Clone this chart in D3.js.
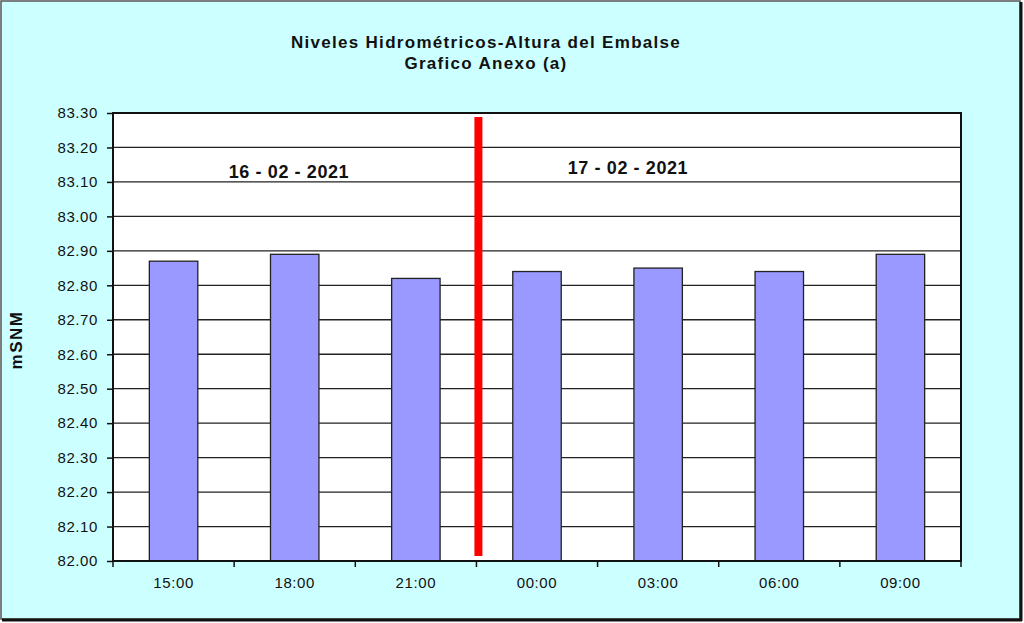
<!DOCTYPE html>
<html><head><meta charset="utf-8">
<script src="https://cdn.jsdelivr.net/npm/d3@7"></script>
<style>body{margin:0;background:#fff;}svg{display:block;}</style>
</head><body>
<svg id="c" width="1024" height="623"></svg>
<script>
const categories = ["15:00","18:00","21:00","00:00","03:00","06:00","09:00"];
const levels = [82.87, 82.89, 82.82, 82.84, 82.85, 82.84, 82.89];
const yTicks = [82.00,82.10,82.20,82.30,82.40,82.50,82.60,82.70,82.80,82.90,83.00,83.10,83.20,83.30];
const titleLines = ["Niveles Hidrométricos-Altura del Embalse","Grafico Anexo (a)"];
const dateLabels = ["16 - 02 - 2021","17 - 02 - 2021"];
const yTitle = "mSNM";

const FONT = "Arial, 'Liberation Sans', sans-serif";
const svg = d3.select("#c");
const W = 1024, H = 623;
const m = {left:113, right:961, top:113, bottom:561};

// background and frame
svg.append("rect").attr("x",0).attr("y",0).attr("width",W).attr("height",H).attr("fill","#ffffff");
svg.append("rect").attr("x",1).attr("y",1).attr("width",1019).attr("height",618)
  .attr("fill","#ccffff").attr("stroke","#555").attr("stroke-width",1.5);
svg.append("line").attr("x1",1021).attr("x2",1021).attr("y1",2).attr("y2",621).attr("stroke","#111").attr("stroke-width",3);
svg.append("line").attr("x1",2).attr("x2",1022).attr("y1",620).attr("y2",620).attr("stroke","#111").attr("stroke-width",3);

const x = d3.scaleBand().domain(categories).range([m.left,m.right]).paddingInner(0.6).paddingOuter(0.3);
const xb = d3.scaleBand().domain(categories).range([m.left,m.right]);
const y = d3.scaleLinear().domain([82.0,83.3]).range([m.bottom,m.top]);

svg.append("rect").attr("x",m.left).attr("y",m.top).attr("width",m.right-m.left).attr("height",m.bottom-m.top).attr("fill","#fff");

// gridlines
svg.append("g").selectAll("line").data(yTicks.slice(1,-1)).join("line")
  .attr("x1",m.left).attr("x2",m.right).attr("y1",d=>y(d)).attr("y2",d=>y(d))
  .attr("stroke","#222").attr("stroke-width",1.3);

// bars
svg.append("g").selectAll("rect").data(levels).join("rect")
  .attr("x",(d,i)=>x(categories[i])).attr("width",x.bandwidth())
  .attr("y",d=>y(d)).attr("height",d=>y(82.0)-y(d))
  .attr("fill","#9999ff").attr("stroke","#222").attr("stroke-width",1.3);

// y axis
const ya = d3.axisLeft(y).tickValues(yTicks).tickFormat(d3.format(".2f")).tickSize(6).tickPadding(9);
const gy = svg.append("g").attr("transform",`translate(${m.left},0)`).call(ya);
gy.select(".domain").remove();
gy.selectAll("line").attr("stroke","#111").attr("stroke-width",1.5);
gy.selectAll("text").attr("font-family",FONT).attr("font-size",15).attr("letter-spacing",0.6).attr("fill","#111");

// x axis (ticks at band boundaries)
const gx = svg.append("g").attr("transform",`translate(0,${m.bottom})`);
gx.selectAll("line").data(categories.concat(["end"])).join("line")
  .attr("x1",(d,i)=>m.left+i*xb.bandwidth()).attr("x2",(d,i)=>m.left+i*xb.bandwidth())
  .attr("y1",0).attr("y2",6).attr("stroke","#111").attr("stroke-width",1.5);
gx.selectAll("text").data(categories).join("text")
  .attr("x",d=>xb(d)+xb.bandwidth()/2).attr("y",27).attr("text-anchor","middle")
  .attr("font-family",FONT).attr("font-size",15).attr("letter-spacing",0.6).attr("fill","#111").text(d=>d);

// plot border
svg.append("rect").attr("x",m.left).attr("y",m.top).attr("width",m.right-m.left).attr("height",m.bottom-m.top)
  .attr("fill","none").attr("stroke","#111").attr("stroke-width",2);

// red separator line
const sepX = xb(categories[3]) + 2;
svg.append("line").attr("x1",sepX).attr("x2",sepX).attr("y1",117).attr("y2",556)
  .attr("stroke","#ff0000").attr("stroke-width",8);

// date labels
svg.selectAll(".dl").data(dateLabels).join("text").attr("class","dl")
  .attr("x",(d,i)=>i===0?289:628).attr("y",(d,i)=>i===0?178:174).attr("text-anchor","middle")
  .attr("font-family",FONT).attr("font-weight","bold").attr("font-size",18).attr("letter-spacing",0.6).attr("fill","#111")
  .text(d=>d);

// title
svg.selectAll(".tt").data(titleLines).join("text").attr("class","tt")
  .attr("x",486).attr("y",(d,i)=>48+i*21).attr("text-anchor","middle")
  .attr("font-family",FONT).attr("font-weight","bold").attr("font-size",17).attr("letter-spacing",1.3).attr("fill","#111")
  .text(d=>d);

// y title
svg.append("text").attr("transform","translate(22,340) rotate(-90)").attr("text-anchor","middle")
  .attr("font-family",FONT).attr("font-weight","bold").attr("font-size",17).attr("letter-spacing",1.5).attr("fill","#111")
  .text(yTitle);
</script>
</body></html>
